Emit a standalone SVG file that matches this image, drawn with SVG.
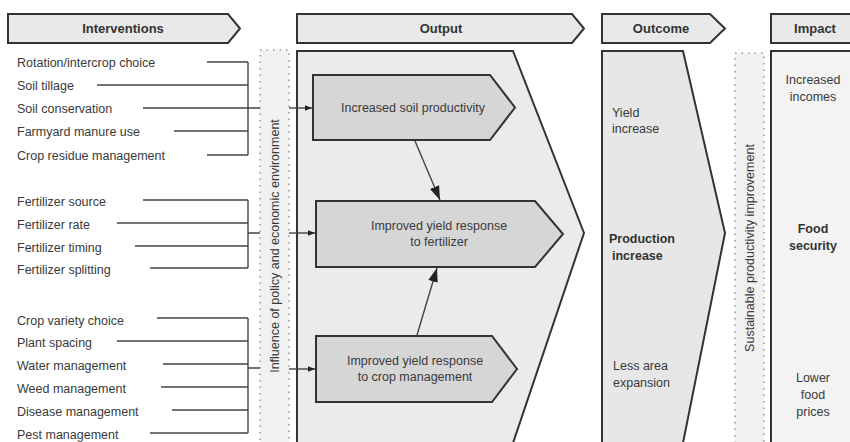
<svg xmlns="http://www.w3.org/2000/svg" width="850" height="442" viewBox="0 0 850 442">
<defs>
<style>
.hdr{fill:#e9e9e9;stroke:#333;stroke-width:2}
.ht{font-family:"Liberation Sans",Arial,sans-serif;font-weight:bold;font-size:13px;fill:#333;text-anchor:middle}
.t{font-family:"Liberation Sans",Arial,sans-serif;font-size:12.5px;fill:#3a3a3a}
.tc{font-family:"Liberation Sans",Arial,sans-serif;font-size:12.5px;fill:#3a3a3a;text-anchor:middle}
.tb{font-family:"Liberation Sans",Arial,sans-serif;font-size:12.5px;font-weight:bold;fill:#333}
.box{fill:#d6d6d6;stroke:#333;stroke-width:2}
.strip{fill:#f1f1f1;stroke:#999;stroke-width:1.5;stroke-dasharray:1.5 5}
.ln{fill:none;stroke:#444;stroke-width:1.4}
</style>
<marker id="ah" viewBox="0 0 10 10" refX="10" refY="5" markerWidth="7" markerHeight="7" orient="auto" markerUnits="userSpaceOnUse">
<path d="M0,1 L10,5 L0,9 z" fill="#222"/>
</marker>
<marker id="ahb" viewBox="0 0 10 10" refX="10" refY="5" markerWidth="14" markerHeight="14" orient="auto" markerUnits="userSpaceOnUse">
<path d="M0,1.5 L10,5 L0,8.5 z" fill="#222"/>
</marker>
</defs>
<rect width="850" height="442" fill="#fff"/>

<g id="header-interventions">
<path class="hdr" d="M8,14 H228 L240,28.5 L228,43 H8 Z"/>
<text class="ht" x="123" y="33">Interventions</text>
</g>
<g id="header-output">
<path class="hdr" d="M297,14 H572 L584,28.5 L572,43 H297 Z"/>
<text class="ht" x="441" y="33">Output</text>
</g>
<g id="header-outcome">
<path class="hdr" d="M602,14 H710 L725,28.5 L710,43 H602 Z"/>
<text class="ht" x="661" y="33">Outcome</text>
</g>
<g id="header-impact">
<rect x="771" y="14" width="82" height="29" fill="#e9e9e9"/>
<path d="M852,14 H771 V43 H852" fill="none" stroke="#333" stroke-width="2"/>
<text class="ht" x="815" y="33">Impact</text>
</g>

<g id="output-panel">
<path d="M297,443 V51 H513 L584,233 L513,443" fill="#ebebeb" stroke="#333" stroke-width="2"/>
</g>
<g id="outcome-panel">
<path d="M602,443 V51 H683 L725,233 L683,443" fill="#e7e7e7" stroke="#333" stroke-width="2"/>
<text class="t" x="612" y="117">Yield</text>
<text class="t" x="612" y="133">increase</text>
<text class="tb" x="609" y="243">Production</text>
<text class="tb" x="612" y="260">increase</text>
<text class="t" x="613" y="370">Less area</text>
<text class="t" x="613" y="387">expansion</text>
</g>
<g id="impact-panel">
<rect x="771" y="51" width="82" height="392" fill="#f3f3f3"/>
<path d="M852,51 H771 V443" fill="none" stroke="#333" stroke-width="2"/>
<text class="tc" x="813" y="84">Increased</text>
<text class="tc" x="813" y="101">incomes</text>
<text class="tb" x="813" y="233" text-anchor="middle">Food</text>
<text class="tb" x="813" y="250" text-anchor="middle">security</text>
<text class="tc" x="813" y="382">Lower</text>
<text class="tc" x="813" y="399">food</text>
<text class="tc" x="813" y="416">prices</text>
</g>

<g id="policy-strip">
<rect class="strip" x="260" y="50" width="29" height="400"/>
<text class="tc" transform="translate(279,246) rotate(-90)">Influence of policy and economic environment</text>
</g>
<g id="sustainable-strip">
<rect class="strip" x="735" y="53" width="29" height="400"/>
<text class="tc" transform="translate(754,248) rotate(-90)">Sustainable productivity improvement</text>
</g>

<g id="box-soil">
<path class="box" d="M313,75 H490 L515,107.5 L490,140 H313 Z"/>
<text class="tc" x="413" y="112">Increased soil productivity</text>
</g>
<g id="box-fertilizer">
<path class="box" d="M316,201 H535 L563,234 L535,267 H316 Z"/>
<text class="tc" x="439" y="230">Improved yield response</text>
<text class="tc" x="439" y="246">to fertilizer</text>
</g>
<g id="box-cropmgmt">
<path class="box" d="M316,336 H492 L517,369 L492,402 H316 Z"/>
<text class="tc" x="415" y="365">Improved yield response</text>
<text class="tc" x="415" y="381">to crop management</text>
</g>

<g id="interventions-list">
<text class="t" x="17" y="67">Rotation/intercrop choice</text>
<text class="t" x="17" y="90">Soil tillage</text>
<text class="t" x="17" y="113">Soil conservation</text>
<text class="t" x="17" y="136">Farmyard manure use</text>
<text class="t" x="17" y="160">Crop residue management</text>
<text class="t" x="17" y="206">Fertilizer source</text>
<text class="t" x="17" y="229">Fertilizer rate</text>
<text class="t" x="17" y="252">Fertilizer timing</text>
<text class="t" x="17" y="274">Fertilizer splitting</text>
<text class="t" x="17" y="325">Crop variety choice</text>
<text class="t" x="17" y="347">Plant spacing</text>
<text class="t" x="17" y="370">Water management</text>
<text class="t" x="17" y="393">Weed management</text>
<text class="t" x="17" y="416">Disease management</text>
<text class="t" x="17" y="439">Pest management</text>
</g>

<g id="connectors">
<path class="ln" d="M207,62 H248 M97,85 H248 M143,108 H260 M174,131 H248 M207,155 H248 M248,62 V155"/>
<path class="ln" d="M143,200 H248 M117,223 H248 M135,246 H248 M150,268 H248 M248,200 V268 M248,233 H260"/>
<path class="ln" d="M157,318 H248 M117,341 H248 M163,364 H248 M161,387 H248 M172,410 H248 M150,433 H248 M248,318 V433 M248,368 H260"/>
<path class="ln" d="M289,108 H312" marker-end="url(#ah)"/>
<path class="ln" d="M289,233 H315" marker-end="url(#ah)"/>
<path class="ln" d="M289,369 H315" marker-end="url(#ah)"/>
<path class="ln" d="M415,141 L440,200" stroke-width="1.8" marker-end="url(#ahb)"/>
<path class="ln" d="M417,335 L437,268" stroke-width="1.8" marker-end="url(#ahb)"/>
</g>
</svg>
